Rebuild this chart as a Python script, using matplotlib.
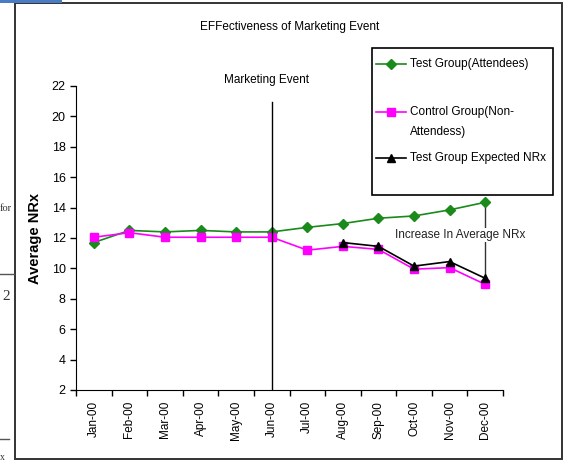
import matplotlib
matplotlib.use("Agg")
import matplotlib.pyplot as plt
from matplotlib.lines import Line2D
from matplotlib.patches import Rectangle

plt.rcParams['font.family'] = ['Liberation Sans', 'DejaVu Sans']

months = ["Jan-00", "Feb-00", "Mar-00", "Apr-00", "May-00", "Jun-00",
          "Jul-00", "Aug-00", "Sep-00", "Oct-00", "Nov-00", "Dec-00"]
test_group = [11.7, 12.5, 12.4, 12.5, 12.4, 12.4, 12.7, 12.95, 13.3, 13.45, 13.85, 14.35]
control_group = [12.05, 12.35, 12.05, 12.05, 12.05, 12.05, 11.2, 11.45, 11.25, 9.95, 10.05, 8.95]
expected_months = months[7:]
expected_nrx = [11.7, 11.45, 10.15, 10.45, 9.35]
event_month = "Jun-00"

W, H = 568, 462
fig = plt.figure(figsize=(W / 100, H / 100), dpi=100)

# frame around the whole chart object
fig.add_artist(Rectangle((15 / W, 1 - 459 / H), 547 / W, 456 / H, transform=fig.transFigure,
                         fill=False, edgecolor='#333333', linewidth=1.4))
# bits of the surrounding document page
fig.add_artist(Rectangle((0, 1 - 3 / H), 62 / W, 3 / H, transform=fig.transFigure,
                         color='#4a7cc4', linewidth=0))
fig.add_artist(Line2D([0, 14 / W], [1 - 274 / H] * 2, transform=fig.transFigure, color='#555555', lw=1))
fig.add_artist(Line2D([0, 9 / W], [1 - 439 / H] * 2, transform=fig.transFigure, color='#555555', lw=1))
fig.text(0, 1 - 209 / H, "for", family='Liberation Serif', fontsize=7.5, va='center', ha='left', color='#333333')
fig.text(2 / W, 1 - 297 / H, "2", family='Liberation Serif', fontsize=11, va='center', ha='left', color='#333333')
fig.text(0, 1 - 458 / H, "x", family='Liberation Serif', fontsize=7, va='center', ha='left', color='#333333')

ax = fig.add_axes([76 / W, 1 - 390 / H, 427 / W, 304 / H])
x = list(range(len(months)))
xe = [months.index(m) for m in expected_months]

ax.plot(x, test_group, color='#1a8a1a', lw=1.2, marker='D', ms=5, label='Test Group(Attendees)')
ax.plot(x, control_group, color='#ff00ff', lw=1.2, marker='s', ms=6, label='Control Group(Non-\nAttendess)')
ax.plot(xe, expected_nrx, color='black', lw=1.2, marker='^', ms=6, label='Test Group Expected NRx')

ax.set_xlim(-0.5, len(months) - 0.5)
ax.set_ylim(2, 22)
ax.set_yticks(range(2, 23, 2))
ax.set_xticks([i - 0.5 for i in range(len(months) + 1)])
ax.set_xticklabels([])
ax.set_xticks(x, minor=True)
ax.set_xticklabels(months, minor=True, rotation=90, fontsize=8.5)
ax.tick_params(axis='x', which='minor', length=0, pad=8)
ax.tick_params(axis='both', which='major', direction='out', length=4, width=1, labelsize=9)
for side in ['top', 'right']:
    ax.spines[side].set_visible(False)
ax.set_ylabel('Average NRx', fontsize=10.5, fontweight='bold', labelpad=7)

# marketing event marker
ev = months.index(event_month)
ax.axvline(ev, ymax=0.947, color='black', lw=1)
ax.text(ev - 0.14, 22.4, 'Marketing Event', ha='center', va='center', fontsize=8.5, clip_on=False)

# gap between test group and expected trend at year end
last = len(months) - 1
ax.plot([last, last], [test_group[-1], expected_nrx[-1]], color='#333333', lw=1, zorder=1)
ax.text(last - 0.7, 12.2, 'Increase In Average NRx', ha='center', va='center', fontsize=8.5,
        color='#222222', bbox=dict(facecolor='white', edgecolor='none', pad=1))

fig.text(290 / W, 1 - 27 / H, 'EFFectiveness of Marketing Event', ha='center', va='center', fontsize=8.5)

# legend box, handles sit on the first line of each label
fig.add_artist(Rectangle((372 / W, 1 - 195 / H), 181 / W, 147 / H, transform=fig.transFigure,
                         fill=False, edgecolor='black', linewidth=1.2))
rows = [64, 112, 158]
for h, row in zip(ax.get_lines()[:3], rows):
    y = 1 - row / H
    fig.add_artist(Line2D([376 / W, 406 / W], [y, y], transform=fig.transFigure,
                          color=h.get_color(), lw=1.2))
    fig.add_artist(Line2D([391 / W], [y], transform=fig.transFigure, color=h.get_color(),
                          marker=h.get_marker(), ms=h.get_markersize()))
    for k, part in enumerate(h.get_label().split('\n')):
        fig.text(410 / W, y - k * 20 / H, part, ha='left', va='center', fontsize=8.5)

fig.savefig('out.png', dpi=100)
